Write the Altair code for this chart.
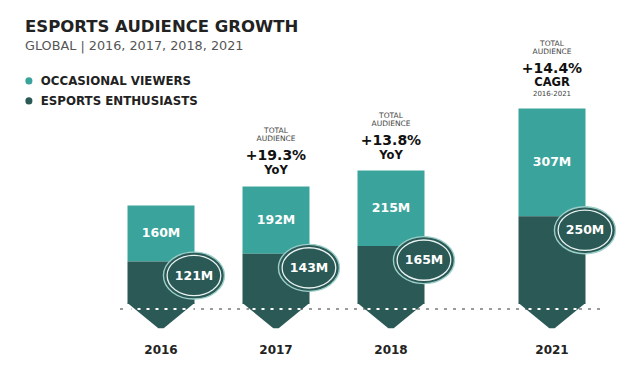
import altair as alt
import pandas as pd

# ---- data ----
years = [2016, 2017, 2018, 2021]
year_labels = ["2016", "2017", "2018", "2021"]
occasional = [160, 192, 215, 307]
enthusiasts = [121, 143, 165, 250]
growth = ["", "+19.3%", "+13.8%", "+14.4%"]
growth_kind = ["", "YoY", "YoY", "CAGR"]
growth_note = ["", "", "", "2016-2021"]
series = ["OCCASIONAL VIEWERS", "ESPORTS ENTHUSIASTS"]
title_text = "ESPORTS AUDIENCE GROWTH"
subtitle_text = "GLOBAL | 2016, 2017, 2018, 2021"

TEAL = "#3aa39b"
DARK = "#2b5955"
FONT = "DejaVu Sans"

wide = pd.DataFrame({
    "year": years,
    "ylabel": year_labels,
    "occasional": occasional,
    "enthusiasts": enthusiasts,
    "pct": growth,
    "kind": growth_kind,
    "note": growth_note,
})
wide["total"] = wide["occasional"] + wide["enthusiasts"]
wide["occ_label"] = [f"{v}M" for v in occasional]
wide["enth_label"] = [f"{v}M" for v in enthusiasts]
wide["mid"] = wide["enthusiasts"] + wide["occasional"] / 2
wide["zero"] = 0

long = pd.DataFrame({
    "year": years * 2,
    "segment": [series[0]] * len(years) + [series[1]] * len(years),
    "value": occasional + enthusiasts,
    "ord": [1] * len(years) + [0] * len(years),
})

xscale = alt.Scale(domain=[2016, 2018, 2021], range=[161, 391, 552], nice=False, zero=False, padding=0)
yscale = alt.Scale(domain=[-205, 866], nice=False, zero=False)

def X():
    return alt.X("year:Q", scale=xscale, axis=None)

def Y(field):
    return alt.Y(field, scale=yscale, axis=None)

base = alt.Chart(wide)

# dotted baseline (gray, under bars)
rule = alt.Chart(pd.DataFrame({"a": [0]})).mark_rule(
    color="#9a9a9a", strokeWidth=2, strokeDash=[3, 6]
).encode(x=alt.value(120), x2=alt.value(600), y=alt.value(309))

bars = alt.Chart(long).mark_bar(size=67).encode(
    x=X(),
    y=alt.Y("value:Q", stack="zero", scale=yscale, axis=None),
    color=alt.Color("segment:N", scale=alt.Scale(domain=series, range=[TEAL, DARK]),
                    legend=alt.Legend(orient="none", legendX=23, legendY=75, title=None,
                                      symbolType="circle", symbolSize=50, symbolStrokeWidth=0,
                                      labelFont=FONT, labelFontWeight="bold", labelFontSize=11.8,
                                      labelColor="#222", labelOffset=6, rowPadding=7, padding=0)),
    order=alt.Order("ord:Q", sort="ascending"),
)

chevron = base.mark_point(
    shape="M-1,-0.03 L1,-0.03 L0.08,0.72 L-0.08,0.72 Z", size=67 * 67, filled=True,
    fill=DARK, opacity=1, strokeWidth=0
).encode(x=X(), y=Y("zero:Q"))

white_dash = base.mark_point(
    shape="M-0.97,0.15 L0.97,0.15", size=67 * 67, filled=False, color="white",
    strokeWidth=2, strokeDash=[3, 6], opacity=1
).encode(x=X(), y=Y("zero:Q"))

teal_labels = base.mark_text(
    font=FONT, fontWeight="bold", fontSize=12.5, color="white", baseline="middle", align="center"
).encode(x=X(), y=Y("mid:Q"), text="occ_label:N")

ELL = "M0.08,0.46 A1,0.77,0,1,1,2.08,0.46 A1,0.77,0,1,1,0.08,0.46 Z"
ELL_IN = "M0.2,0.46 A0.88,0.66,0,1,1,1.96,0.46 A0.88,0.66,0,1,1,0.2,0.46 Z"

circ_outer = base.mark_point(
    shape=ELL, size=61 * 61, filled=True, fill=DARK, stroke="#9ccfc9", strokeWidth=1.4,
    opacity=1, fillOpacity=1, strokeOpacity=1
).encode(x=X(), y=Y("enthusiasts:Q"))

circ_inner = base.mark_point(
    shape=ELL_IN, size=61 * 61, filled=False, color="#e8f3f2", strokeWidth=1.3, opacity=1
).encode(x=X(), y=Y("enthusiasts:Q"))

circ_labels = base.mark_text(
    font=FONT, fontWeight="bold", fontSize=12.5, color="white", baseline="middle", align="center",
    dx=33, dy=14
).encode(x=X(), y=Y("enthusiasts:Q"), text="enth_label:N")

year_text = base.mark_text(
    font=FONT, fontWeight="bold", fontSize=12, color="#222", baseline="middle", align="center"
).encode(x=X(), y=alt.value(350), text="ylabel:N")

# annotations above bars
def ann_layers(filt, shift, kind_dy):
    b = base.transform_filter(filt)
    small = dict(font=FONT, fontSize=7.5, color="#444", baseline="middle", align="center")
    return [
        b.mark_text(text="TOTAL", dy=-55 + shift, **small).encode(x=X(), y=Y("total:Q")),
        b.mark_text(text="AUDIENCE", dy=-47 + shift, **small).encode(x=X(), y=Y("total:Q")),
        b.mark_text(font=FONT, fontWeight="bold", fontSize=14, color="#111", baseline="middle",
                    align="center", dy=-30 + shift).encode(x=X(), y=Y("total:Q"), text="pct:N"),
        b.mark_text(font=FONT, fontWeight="bold", fontSize=11.5, color="#111", baseline="middle",
                    align="center", dy=kind_dy).encode(x=X(), y=Y("total:Q"), text="kind:N"),
    ]

annA = ann_layers("datum.pct != '' && datum.note == ''", 0, -15)
annB = ann_layers("datum.note != ''", -9, -25)
note = base.transform_filter("datum.note != ''").mark_text(
    font=FONT, fontSize=7, color="#444", baseline="middle", align="center", dy=-14
).encode(x=X(), y=Y("total:Q"), text="note:N")

tdf = pd.DataFrame({"t": [title_text], "s": [subtitle_text]})
title = alt.Chart(tdf).mark_text(
    font=FONT, fontWeight="bold", fontSize=16.5, color="#222", align="left", baseline="alphabetic"
).encode(x=alt.value(25), y=alt.value(32), text="t:N")
subtitle = alt.Chart(tdf).mark_text(
    font=FONT, fontSize=12.8, color="#555", align="left", baseline="alphabetic"
).encode(x=alt.value(25), y=alt.value(50), text="s:N")

chart = alt.layer(
    rule, bars, chevron, white_dash, teal_labels, circ_outer, circ_inner, circ_labels, year_text,
    *annA, *annB, note, title, subtitle
).properties(
    width=640, height=376, padding=0, autosize=alt.AutoSizeParams(type="none"), background="white"
).configure_view(stroke=None)

chart.save("out.html", embed_options={"renderer": "svg", "actions": False})
